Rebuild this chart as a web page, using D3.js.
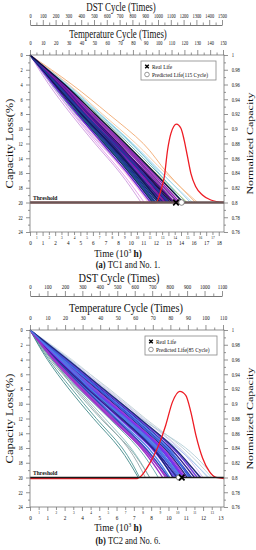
<!DOCTYPE html>
<html>
<head>
<meta charset="utf-8">
<script src="https://cdn.jsdelivr.net/npm/d3@7/dist/d3.min.js"></script>
<style>
    body { margin: 0; background: #fff; }
    text { font-family: "Liberation Serif", "Times New Roman", serif; fill: #111; }
</style>
</head>
<body>
<svg id="chart" width="256" height="550"></svg>
<script>
// capacity loss (%) levels at which each sampled path is read
var lossLevels = [4, 8, 12, 16, 20];

// (a) TC1 and No. 1 : time (10^3 h) at which each path reaches the levels above
var pathsCoreA = [
    [2.5, 4.9, 7.5, 9.9, 12.2], [2.6, 5.0, 7.7, 10.1, 12.5], [2.7, 5.2, 7.9, 10.4, 12.8],
    [2.8, 5.4, 8.1, 10.7, 13.1], [2.9, 5.5, 8.3, 10.9, 13.4], [2.6, 5.1, 7.8, 10.3, 12.6],
    [2.4, 4.8, 7.3, 9.7, 11.9], [3.0, 5.7, 8.6, 11.3, 13.8], [2.5, 5.0, 7.6, 10.0, 12.3],
    [2.8, 5.3, 8.0, 10.6, 13.0], [2.3, 4.6, 7.1, 9.5, 11.7], [2.7, 5.3, 8.2, 10.8, 13.3],
    [3.1, 5.9, 8.8, 11.5, 14.1], [2.6, 4.9, 7.4, 9.8, 12.0], [2.9, 5.6, 8.4, 11.0, 13.6],
    [2.2, 4.5, 6.9, 9.3, 11.5], [2.8, 5.2, 7.8, 10.2, 12.7], [3.2, 6.0, 8.9, 11.7, 14.3],
    [2.5, 4.7, 7.2, 9.6, 11.8], [2.7, 5.4, 8.3, 11.1, 13.7], [2.4, 4.9, 7.6, 10.1, 12.4],
    [3.0, 5.6, 8.3, 10.8, 13.2], [2.9, 5.4, 8.0, 10.5, 12.9], [2.6, 5.2, 8.0, 10.7, 13.2],
    [3.3, 6.2, 9.1, 11.9, 14.6]
];
var pathsOuterA = [
    [2.0, 4.1, 6.4, 8.8, 10.9], [1.8, 3.9, 6.2, 8.6, 10.6], [2.2, 4.3, 6.7, 9.1, 11.3],
    [3.4, 6.4, 9.4, 12.2, 14.9], [3.6, 6.7, 9.8, 12.6, 15.3], [4.0, 7.5, 10.8, 13.1, 15.8],
    [3.5, 6.5, 9.6, 12.5, 15.5], [3.3, 6.3, 9.2, 12.0, 15.0], [2.1, 4.4, 7.0, 9.6, 11.9],
    [3.2, 6.1, 9.0, 11.8, 14.7], [2.9, 5.8, 8.7, 11.4, 14.0], [2.4, 4.5, 6.8, 9.2, 11.4],
    [3.7, 6.9, 10.1, 12.9, 16.0], [2.0, 4.2, 6.6, 9.4, 11.6], [3.4, 6.6, 9.7, 12.3, 14.6]
];
// probability density of predicted life, drawn on the capacity-loss scale
var pdfTimeA = [0, 12.02, 12.49, 12.81, 13.12, 13.44, 13.97, 14.39, 14.70, 15.02, 15.34, 15.81, 16.44, 17.24, 18.5];
var pdfLossA = [20, 20, 18.31, 16.50, 12.88, 10.62, 9.36, 9.94, 11.53, 13.79, 16.04, 17.86, 18.98, 19.66, 20];
var realLifeA = 13.92;
var predLifeA = 14.45;
var predCycleA = 115;

// (b) TC2 and No. 6
var pathsCoreB = [
    [2.0, 4.2, 6.5, 8.7, 10.3], [1.9, 4.0, 6.2, 8.4, 10.0], [2.1, 4.4, 6.8, 9.0, 10.6],
    [2.2, 4.6, 7.0, 9.3, 10.9], [1.8, 3.9, 6.0, 8.2, 9.7], [2.0, 4.3, 6.7, 9.0, 10.5],
    [2.3, 4.7, 7.2, 9.5, 11.2], [1.7, 3.7, 5.8, 7.9, 9.4], [2.1, 4.3, 6.6, 8.8, 10.4],
    [2.4, 4.9, 7.4, 9.7, 11.4], [1.9, 4.1, 6.4, 8.6, 10.1], [2.2, 4.5, 6.9, 9.1, 10.7],
    [1.6, 3.5, 5.6, 7.7, 9.2], [2.0, 4.2, 6.4, 8.5, 9.9], [2.3, 4.8, 7.3, 9.6, 11.0],
    [2.5, 5.0, 7.5, 9.9, 11.6], [1.8, 3.8, 5.9, 8.0, 9.6], [2.1, 4.5, 6.9, 9.2, 10.8],
    [2.2, 4.4, 6.7, 8.9, 10.2], [1.9, 4.0, 6.3, 8.5, 10.2], [2.4, 4.8, 7.1, 9.4, 11.1],
    [2.0, 4.3, 6.8, 9.1, 10.6], [1.7, 3.6, 5.7, 7.8, 9.5], [2.6, 5.1, 7.6, 10.0, 11.8],
    [2.1, 4.2, 6.5, 8.8, 10.5]
];
var pathsOuterB = [
    [1.3, 2.9, 4.6, 6.4, 7.6], [1.4, 3.2, 5.0, 6.8, 8.0], [1.5, 3.3, 5.2, 7.0, 8.3],
    [2.8, 5.5, 8.0, 10.6, 12.6], [2.9, 5.4, 7.9, 10.4, 12.3], [2.7, 5.3, 7.8, 10.3, 12.0],
    [1.2, 2.7, 4.4, 6.2, 7.5], [2.6, 5.2, 7.7, 10.8, 12.8], [1.5, 3.4, 5.5, 7.5, 8.9],
    [2.5, 4.9, 7.5, 9.9, 11.5], [1.6, 3.1, 4.9, 6.9, 8.3], [2.7, 5.0, 7.4, 10.2, 12.4],
    [2.3, 4.6, 7.3, 9.8, 11.9], [1.8, 3.8, 6.1, 8.4, 10.0], [2.2, 4.7, 7.0, 9.2, 10.9]
];
var pdfTimeB = [0, 7.44, 8.24, 8.83, 9.41, 9.88, 10.38, 10.80, 11.15, 11.50, 11.97, 12.43, 12.89, 13.45];
var pdfLossB = [20, 20, 18.16, 15.91, 12.77, 9.61, 8.18, 8.72, 10.96, 14.12, 17.26, 19.05, 19.86, 20];
var realLifeB = 10.52;
var predLifeB = 10.34;
var predCycleB = 85;

// tick labels
var lossTicks = [0, 2, 4, 6, 8, 10, 12, 14, 16, 18, 20, 22, 24];
var capTicks = [1, 0.98, 0.96, 0.94, 0.92, 0.9, 0.88, 0.86, 0.84, 0.82, 0.8, 0.78, 0.76];
var timeMajorA = [0, 1.2, 2.4, 3.6, 4.8, 6, 7.2, 8.4, 9.6, 10.8, 12, 13.2, 14.4, 15.6, 16.8, 18];
var timeMinorA = [0.6, 1.8, 3, 4.2, 5.4, 6.6, 7.8, 9, 10.2, 11.4, 12.6, 13.8, 15, 16.2, 17.4];
var timeMajorB = [0, 1.2, 2.4, 3.6, 4.8, 6, 7.2, 8.4, 9.6, 10.8, 12, 13.2];
var timeMinorB = [0.6, 1.8, 3, 4.2, 5.4, 6.6, 7.8, 9, 10.2, 11.4, 12.6];
var tempTicksA = [0, 10, 20, 30, 40, 50, 60, 70, 80, 90, 100, 110, 120, 130, 140, 150];
var dstTicksA = [0, 100, 200, 300, 400, 500, 600, 700, 800, 900, 1000, 1100, 1200, 1300, 1400, 1500];
var tempTicksB = [0, 10, 20, 30, 40, 50, 60, 70, 80, 90, 100, 110];
var dstTicksB = [0, 100, 200, 300, 400, 500, 600, 700, 800, 900, 1000, 1100];

var svg = d3.select('#chart');

/* the figure is squeezed sideways, so text gets a horizontal scale */
function label(parent, str, px, py, size, sx, anchor, rot) {
    return parent.append('text')
        .text(str)
        .attr('font-size', size)
        .attr('text-anchor', anchor || 'start')
        .attr('transform', 'translate(' + px + ',' + py + ') scale(' + sx + ',1)' + (rot ? ' rotate(' + rot + ')' : ''));
}

function styleAxis(sel, size, sx, keepDomain) {
    sel.attr('font-size', size).attr('font-family', null);
    if (!keepDomain) sel.select('.domain').remove();
    sel.select('.domain').attr('stroke', '#777');
    sel.selectAll('.tick line').attr('stroke', '#777').attr('stroke-width', 0.8);
    sel.selectAll('.tick text').attr('fill', '#222').attr('transform', 'scale(' + sx + ',1)');
    return sel;
}

function drawPanel(p) {
    var L = p.layout;
    var x = d3.scaleLinear().domain([0, p.timeMax]).range([30, 224]);
    var y = d3.scaleLinear().domain([0, 24]).range([L.top, L.bottom]);
    var yCap = d3.scaleLinear().domain([0.76, 1]).range([L.bottom, L.top]);
    var xTemp = d3.scaleLinear().domain([0, p.tempMax]).range([30, 223]);
    var xDst = d3.scaleLinear().domain([0, p.dstMax]).range([30, 222]);
    var plain = d3.format('d');

    var g = svg.append('g');

    /* degradation paths from the origin */
    var line = d3.line()
        .x(function(d) { return x(d[0]); })
        .y(function(d) { return y(d[1]); })
        .curve(d3.curveMonotoneY);
    function points(times) {
        return [[0, 0]].concat(times.map(function(t, i) { return [t, lossLevels[i]]; }));
    }
    g.append('g').selectAll('path')
        .data(p.outer)
        .enter().append('path')
        .attr('d', function(d) { return line(points(d)); })
        .attr('fill', 'none')
        .attr('stroke', function(d, i) { return p.outerColors[i % p.outerColors.length]; })
        .attr('stroke-width', 0.8);
    g.append('g').selectAll('path')
        .data(p.core)
        .enter().append('path')
        .attr('d', function(d) { return line(points(d)); })
        .attr('fill', 'none')
        .attr('stroke', function(d, i) { return p.coreColors[i % p.coreColors.length]; })
        .attr('stroke-width', 1.3);

    /* predicted life density */
    var pdfLine = d3.line()
        .x(function(d) { return x(d[0]); })
        .y(function(d) { return y(d[1]); })
        .curve(d3.curveMonotoneX);
    g.append('path')
        .attr('d', pdfLine(p.pdfT.map(function(t, i) { return [t, p.pdfL[i]]; })))
        .attr('transform', 'translate(0,' + p.pdfShift + ')')
        .attr('fill', 'none')
        .attr('stroke', '#ee1c24')
        .attr('stroke-width', 1.3);

    /* threshold */
    g.append('line')
        .attr('x1', x(0)).attr('x2', x(p.timeMax))
        .attr('y1', y(20)).attr('y2', y(20))
        .attr('stroke', p.threshColor)
        .attr('stroke-width', p.threshWidth);
    label(g, 'Threshold', 33, y(20) - 3, 7, 0.8).attr('font-weight', 'bold');

    /* frame */
    g.append('rect')
        .attr('x', 30).attr('y', L.top)
        .attr('width', 194).attr('height', L.bottom - L.top)
        .attr('fill', 'none').attr('stroke', '#777').attr('stroke-width', 0.8);

    /* left axis */
    styleAxis(g.append('g').attr('transform', 'translate(30,0)')
        .call(d3.axisLeft(y).tickValues(lossTicks).tickSize(4).tickPadding(5)), 5.5, 0.8);
    styleAxis(g.append('g').attr('transform', 'translate(30,0)')
        .call(d3.axisLeft(y).tickValues(d3.range(1, 24, 2)).tickSize(2).tickFormat('')), 5, 1);

    /* right axis */
    styleAxis(g.append('g').attr('transform', 'translate(224,0)')
        .call(d3.axisRight(yCap).tickValues(capTicks).tickSize(4).tickPadding(5)
            .tickFormat(function(d) { return String(+d.toFixed(2)); })), 5.5, 0.85);
    styleAxis(g.append('g').attr('transform', 'translate(224,0)')
        .call(d3.axisRight(yCap).tickValues(d3.range(0.77, 1, 0.02)).tickSize(2).tickFormat('')), 5, 1);

    /* bottom time axis */
    styleAxis(g.append('g').attr('transform', 'translate(0,' + L.bottom + ')')
        .call(d3.axisBottom(x).tickValues(p.timeMajor).tickSize(4).tickPadding(4)), 6.5, 0.8);
    styleAxis(g.append('g').attr('transform', 'translate(0,' + L.bottom + ')')
        .call(d3.axisBottom(x).tickValues(p.timeMinor).tickSize(3).tickPadding(1)), 4, 0.85);

    /* top temperature cycle axis */
    styleAxis(g.append('g').attr('transform', 'translate(0,' + L.top + ')')
        .call(d3.axisTop(xTemp).tickValues(p.tempTicks).tickSize(5).tickPadding(5).tickFormat(plain)), 5.5, p.topSx);
    styleAxis(g.append('g').attr('transform', 'translate(0,' + L.top + ')')
        .call(d3.axisTop(xTemp).tickValues(d3.range(5, p.tempMax, 10)).tickSize(2.5).tickFormat('')), 5, 1);

    /* DST cycle axis */
    styleAxis(g.append('g').attr('transform', 'translate(0,' + L.dst + ')')
        .call(d3.axisTop(xDst).tickValues(p.dstTicks).tickSize(5).tickSizeOuter(0)
            .tickPadding(L.dstPad).tickFormat(plain)), 5.5, p.topSx, true);
    styleAxis(g.append('g').attr('transform', 'translate(0,' + L.dst + ')')
        .call(d3.axisTop(xDst).tickValues(d3.range(50, p.dstMax, 100)).tickSize(2.5).tickFormat('')), 5, 1);

    /* titles */
    label(g, 'DST Cycle (Times)', p.titleX[0], L.dstTitle, p.titleSize, p.titleSx, 'middle');
    label(g, 'Temperature Cycle (Times)', p.titleX[1], L.tempTitle, p.titleSize, p.titleSx, 'middle');
    label(g, 'Capacity Loss(%)', 13, (L.top + L.bottom) / 2, 12.5, 0.77, 'middle', -90);
    label(g, 'Normalized Capacity', 253, (L.top + L.bottom) / 2, 12, 0.77, 'middle', -90);

    var tt = label(g, 'Time (10', 118, L.timeTitle, 11, 0.85, 'middle');
    tt.append('tspan').text('3').attr('font-size', 6.5).attr('dy', -4);
    tt.append('tspan').text(' h)').attr('font-weight', 'bold').attr('dy', 4);

    var cap = label(g, '', 128, L.caption, 10, 0.85, 'middle');
    cap.append('tspan').text(p.caption[0]).attr('font-weight', 'bold');
    cap.append('tspan').text(p.caption[1]);

    /* real / predicted life markers */
    var xSym = d3.symbol().type(d3.symbolX || d3.symbolCross).size(22);
    g.append('circle')
        .attr('cx', x(p.pred)).attr('cy', y(20)).attr('r', 2.8)
        .attr('fill', '#fff').attr('stroke', '#666').attr('stroke-width', 0.8);
    g.append('path')
        .attr('d', xSym())
        .attr('transform', 'translate(' + x(p.real) + ',' + y(20) + ')')
        .attr('fill', 'none').attr('stroke', '#000').attr('stroke-width', 1.7);

    /* legend */
    var lg = g.append('g').attr('transform', 'translate(' + p.legendX + ',' + (L.top + 6) + ')');
    lg.append('rect')
        .attr('width', p.legendW).attr('height', 19)
        .attr('fill', '#fff').attr('stroke', '#888').attr('stroke-width', 0.8);
    lg.append('path')
        .attr('d', d3.symbol().type(d3.symbolX || d3.symbolCross).size(10)())
        .attr('transform', 'translate(6,5.5)')
        .attr('fill', 'none').attr('stroke', '#000').attr('stroke-width', 1.4);
    lg.append('circle')
        .attr('cx', 6).attr('cy', 13.5).attr('r', 2.3)
        .attr('fill', '#fff').attr('stroke', '#555').attr('stroke-width', 0.6);
    label(lg, 'Real Life', 11, 8, 7, 0.77);
    label(lg, 'Predicted Life(' + p.predCycle + ' Cycle)', 11, 16, 7, 0.77);
}

var panelA = {
    core: pathsCoreA, outer: pathsOuterA,
    coreColors: ['#15155c', '#4a1a9c', '#7d1fa8', '#1f3a9c', '#0c0c38', '#6a2bd0', '#27277e', '#9622b8', '#1d5888', '#3b1278'],
    outerColors: ['#e28be8', '#c58ad8', '#e89be0', '#4aa0a0', '#8fc8e8', '#f0a060', '#a8dcec', '#b8d070',
        '#3c9090', '#9a9aa8', '#58a860', '#f09ad0', '#f4c090', '#c0a0e8', '#60c0d0'],
    pdfT: pdfTimeA, pdfL: pdfLossA, real: realLifeA, pred: predLifeA, predCycle: predCycleA,
    timeMax: 18.5, timeMajor: timeMajorA, timeMinor: timeMinorA,
    tempMax: 150, tempTicks: tempTicksA, dstMax: 1500, dstTicks: dstTicksA,
    caption: ['(a)', ' TC1 and No. 1.'],
    layout: { dstTitle: 11, dst: 25, dstPad: 2, tempTitle: 38, top: 55, bottom: 232, timeTitle: 257, caption: 268 },
    titleX: [121, 118], titleSize: 12, titleSx: 0.74, topSx: 0.8,
    legendX: 141, legendW: 75, threshColor: '#6a5656', threshWidth: 2.4, pdfShift: 0
};

var panelB = {
    core: pathsCoreB, outer: pathsOuterB,
    coreColors: ['#3b5bdb', '#7b2ff0', '#9b30c8', '#1e2a78', '#4c7ee8', '#6a3de0', '#2d44b8', '#a040d0', '#5570e0', '#302090'],
    outerColors: ['#3a8a8a', '#8a9aa0', '#80b8b8', '#b8c8d0', '#c8d8e0', '#c0b0e8', '#2a7a7a', '#a8c8d0',
        '#4a9a9a', '#e090e0', '#7aa0a0', '#90b8f0', '#a060e0', '#70c8e0', '#d070d0'],
    pdfT: pdfTimeB, pdfL: pdfLossB, real: realLifeB, pred: predLifeB, predCycle: predCycleB,
    timeMax: 13.45, timeMajor: timeMajorB, timeMinor: timeMinorB,
    tempMax: 110, tempTicks: tempTicksB, dstMax: 1100, dstTicks: dstTicksB,
    caption: ['(b)', ' TC2 and No. 6.'],
    layout: { dstTitle: 281.5, dst: 296, dstPad: 2, tempTitle: 312, top: 330, bottom: 507, timeTitle: 531, caption: 544 },
    titleX: [119, 126], titleSize: 11.5, titleSx: 0.9, topSx: 0.9,
    legendX: 145, legendW: 72, threshColor: '#1a1a1a', threshWidth: 1.6, pdfShift: 1
};

drawPanel(panelA);
drawPanel(panelB);
</script>
</body>
</html>
